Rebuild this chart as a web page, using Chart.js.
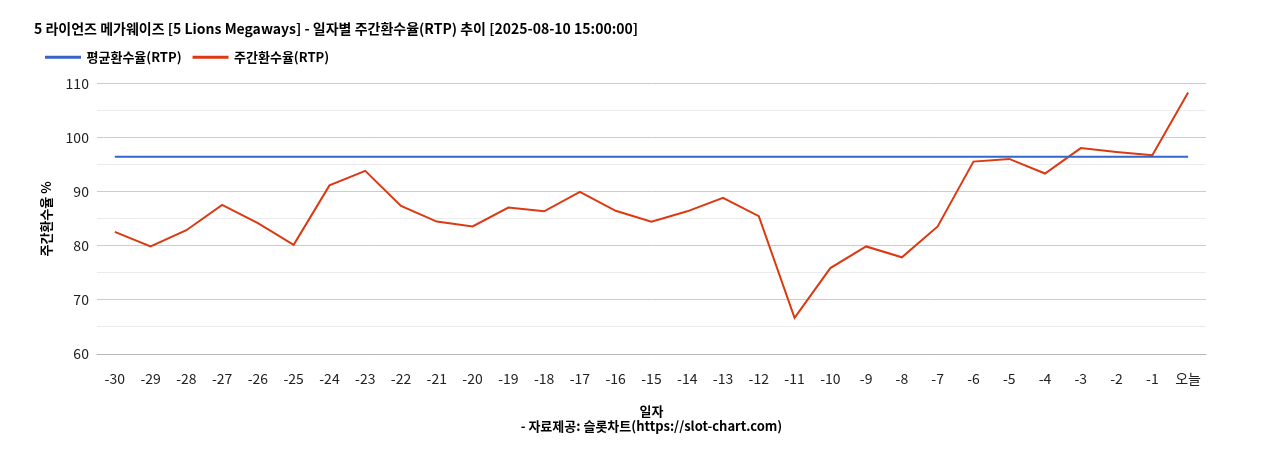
<!DOCTYPE html>
<html>
<head>
<meta charset="utf-8">
<script src="https://cdn.jsdelivr.net/npm/chart.js@4"></script>
<style>
  html, body { margin: 0; padding: 0; background: #fff; }
  #wrap { width: 1268px; height: 450px; position: relative; }
</style>
</head>
<body>
<div id="wrap"><canvas id="chart"></canvas></div>
<script>
const labels = ["-30","-29","-28","-27","-26","-25","-24","-23","-22","-21","-20","-19","-18","-17","-16","-15","-14","-13","-12","-11","-10","-9","-8","-7","-6","-5","-4","-3","-2","-1","오늘"];
const weeklyRtp = [82.6,79.9,82.9,87.6,84.2,80.2,91.2,93.9,87.4,84.5,83.6,87.1,86.4,90.0,86.5,84.5,86.4,88.9,85.5,66.7,75.9,79.9,77.9,83.6,95.6,96.1,93.4,98.1,97.4,96.8,108.4];
const avgRtp = labels.map(() => 96.5);

const font = "'Noto Sans CJK KR', 'Noto Sans', sans-serif";
Chart.defaults.font.family = font;
Chart.defaults.color = '#222';

new Chart(document.getElementById('chart'), {
  type: 'line',
  data: {
    labels: labels,
    datasets: [
      { label: '평균환수율(RTP)', data: avgRtp, borderColor: '#3366cc', backgroundColor: '#3366cc', borderWidth: 2, pointRadius: 0, tension: 0 },
      { label: '주간환수율(RTP)', data: weeklyRtp, borderColor: '#dc3912', backgroundColor: '#dc3912', borderWidth: 2, pointRadius: 0, tension: 0 }
    ]
  },
  options: {
    responsive: true,
    maintainAspectRatio: false,
    animation: false,
    layout: { padding: { left: 34, right: 62, top: 0, bottom: 12 } },
    plugins: {
      title: {
        display: true, align: 'start',
        text: '5 라이언즈 메가웨이즈 [5 Lions Megaways] - 일자별 주간환수율(RTP) 추이 [2025-08-10 15:00:00]',
        font: { size: 14, weight: 'bold' }, color: '#000',
        padding: { top: 20, bottom: 2 }
      },
      legend: {
        align: 'start',
        labels: { boxWidth: 34, boxHeight: 1, font: { size: 13, weight: 'bold' }, color: '#000', padding: 12 }
      },
      tooltip: { enabled: false }
    },
    scales: {
      x: {
        offset: true,
        grid: { display: false },
        ticks: { font: { size: 14 }, color: '#222', maxRotation: 0, autoSkip: false, padding: 8 },
        title: { display: true, text: ['일자', '- 자료제공: 슬롯차트(https://slot-chart.com)'], font: { size: 13, weight: 'bold' }, color: '#000', padding: { top: 8 } }
      },
      y: {
        min: 60, max: 110,
        ticks: { stepSize: 5, font: { size: 14 }, color: '#222', padding: 8,
          callback: v => (v % 10 === 0 ? v : '') },
        grid: { color: ctx => (ctx.tick && ctx.tick.value % 10 === 0 ? '#cccccc' : '#ebebeb'), drawTicks: false },
        border: { display: false },
        title: { display: true, text: '주간환수율 %', font: { size: 13, weight: 'bold' }, color: '#000' }
      }
    }
  },
  plugins: [{
    id: 'legendGap',
    beforeInit(chart) {
      const fit = chart.legend.fit;
      chart.legend.fit = function () { fit.call(this); this.height += 10; };
    }
  }]
});
</script>
</body>
</html>
